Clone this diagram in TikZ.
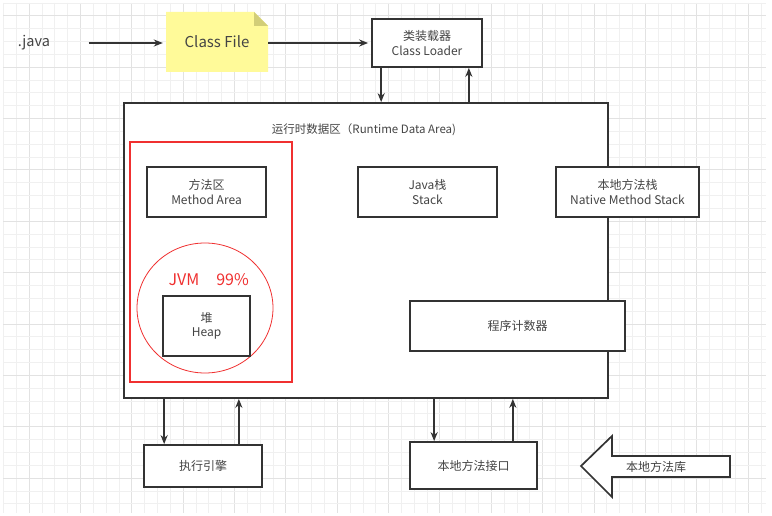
\documentclass[tikz,border=0pt]{standalone}
\usepackage{fontspec}
\setmainfont{Noto Sans CJK SC}
\usetikzlibrary{arrows.meta,shapes.geometric}
\definecolor{ink}{HTML}{333333}
\definecolor{txt}{HTML}{444444}
\definecolor{redc}{HTML}{F03030}
\definecolor{notey}{HTML}{FFFA99}
\definecolor{foldc}{HTML}{D2CE78}
\definecolor{gminor}{HTML}{F0F0F0}
\definecolor{gmajor}{HTML}{E2E2E2}
\tikzset{
  boxn/.style={draw=ink,line width=1.7pt,fill=white,align=center,inner sep=0pt,
    font=\fontsize{12}{14.5}\selectfont,text=txt},
  arr/.style={draw=ink,line width=1.6pt,-{Stealth[length=9pt,width=7pt]}},
}
\begin{document}
\begin{tikzpicture}[x=1pt,y=-1pt]
\useasboundingbox (0,0) rectangle (772,516);
\fill[white] (0,0) rectangle (772,516);
% grid
\foreach \i in {0,...,59}{
  \pgfmathsetmacro{\xx}{3.4+12.84*\i}
  \pgfmathtruncatemacro{\mm}{mod(\i,4)}
  \ifnum\mm=2 \draw[gmajor,line width=1pt] (\xx,3) -- (\xx,513);
  \else \draw[gminor,line width=0.8pt] (\xx,3) -- (\xx,513); \fi
}
\foreach \j in {0,...,39}{
  \pgfmathsetmacro{\yy}{3+12.84*\j}
  \pgfmathtruncatemacro{\mm}{mod(\j,4)}
  \ifnum\mm=1 \draw[gmajor,line width=1pt] (3.4,\yy) -- (766,\yy);
  \else \draw[gminor,line width=0.8pt] (3.4,\yy) -- (766,\yy); \fi
}
% top row
\node[text=txt,font=\fontsize{14.5}{16}\selectfont] (java) at (34,43) {.java};
\fill[notey] (166,12) -- (254,12) -- (268,26) -- (268,72) -- (166,72) -- cycle;
\fill[foldc] (254,12) -- (268,26) -- (254,26) -- cycle;
\node[minimum width=102pt,minimum height=60pt,inner sep=0pt,text=txt,
  font=\fontsize{15}{17}\selectfont] (classfile) at (217,42) {Class File};
\node[boxn,minimum width=110pt,minimum height=48pt] (loader) at (427,43)
  {类装载器\\Class Loader};
\draw[arr,shorten <=35pt,shorten >=3pt] (java.east) -- (java.east -| classfile.west);
\draw[arr,shorten >=3pt] (classfile.east |- loader.west) -- (loader.west);
% runtime data area
\node[boxn,minimum width=484pt,minimum height=295pt] (rda) at (366,250.5) {};
\node[text=txt,font=\fontsize{11.5}{14}\selectfont] (title) at (364,130)
  {运行时数据区（Runtime Data Area)};
\draw[arr] ([xshift=10pt]loader.south west) -- ([xshift=10pt]loader.south west |- rda.north);
\draw[arr] ([xshift=-14pt]loader.south east |- rda.north) -- ([xshift=-14pt]loader.south east);
\node[draw=redc,line width=2.6pt,minimum width=162pt,minimum height=240pt,inner sep=0pt] (hot) at (211,262) {};
\node[boxn,minimum width=119pt,minimum height=50pt] (method) at (206.5,192) {方法区\\Method Area};
\node[boxn,minimum width=139pt,minimum height=50pt] (stack) at (427.5,192) {Java栈\\Stack};
\node[boxn,minimum width=143pt,minimum height=50pt] (native) at (627.5,192) {本地方法栈\\Native Method Stack};
\node[draw=redc,line width=0.8pt,ellipse,minimum width=136pt,minimum height=130pt,inner sep=0pt] (jvm) at (205,308) {};
\node[text=redc,font=\fontsize{16}{18}\selectfont,anchor=base west] (jvmtxt) at (165,286) {JVM\hspace{17pt}99\%};
\node[boxn,minimum width=87pt,minimum height=60pt] (heap) at (206.5,326) {堆\\Heap};
\node[boxn,minimum width=215pt,minimum height=50pt] (pc) at (517.5,326) {程序计数器};
% bottom row
\node[boxn,minimum width=118pt,minimum height=42pt] (engine) at (203,466) {执行引擎};
\node[boxn,minimum width=127pt,minimum height=47pt] (nif) at (473.5,465.5) {本地方法接口};
\draw[arr] ([xshift=21pt]engine.north west |- rda.south) -- ([xshift=21pt]engine.north west);
\draw[arr] ([xshift=-24pt]engine.north east) -- ([xshift=-24pt]engine.north east |- rda.south);
\draw[arr] ([xshift=25pt]nif.north west |- rda.south) -- ([xshift=25pt]nif.north west);
\draw[arr] ([xshift=-25pt]nif.north east) -- ([xshift=-25pt]nif.north east |- rda.south);
\draw[draw=ink,line width=1.7pt,fill=white,line join=miter]
  (581,466) -- (612,436) -- (612,456) -- (730,456) -- (730,477) -- (612,477) -- (612,497) -- cycle;
\node[text=txt,font=\fontsize{12}{14}\selectfont] (lib) at (656,466.5) {本地方法库};
\end{tikzpicture}
\end{document}
